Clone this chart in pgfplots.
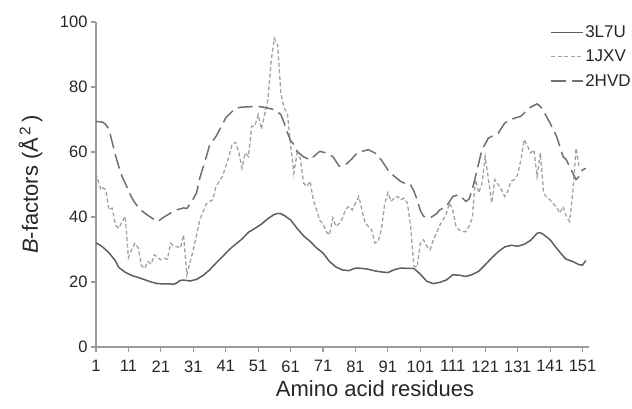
\documentclass[border=0pt]{standalone}
\usepackage{pgfplots}
\pgfplotsset{compat=1.18}
\usepackage{fontspec}
\setmainfont{Liberation Sans}
\definecolor{axgray}{HTML}{9A9A9A}
\definecolor{c3l7u}{HTML}{5E5E5E}
\definecolor{c1jxv}{HTML}{A2A2A2}
\definecolor{c2hvd}{HTML}{707070}
\begin{document}
\begin{tikzpicture}
\path[use as bounding box] (0,0) rectangle (632pt,409pt);
\begin{axis}[
  at={(96pt,62pt)}, anchor=south west,
  scale only axis, width=493pt, height=325pt,
  xmin=1, xmax=153, ymin=0, ymax=100,
  axis x line*=bottom, axis y line*=left,
  axis line style={axgray, line width=1.2pt, -},
  tick style={axgray, line width=1.1pt},
  tick align=outside, major tick length=5pt,
  xtick={1,11,...,151}, ytick={0,20,...,100},
  /pgf/number format/assume math mode=true,
  ticklabel style={font=\fontsize{16.5}{19}\selectfont, text=black!85},
  xticklabel style={yshift=-5pt},
  xlabel={Amino acid residues},
  ylabel={{\itshape B}-factors (Å\textsuperscript{\,2}\,)},
  label style={font=\fontsize{22}{26}\selectfont, text=black!85},
  xlabel style={at={(axis description cs:0.566,0)}, anchor=north, yshift=-30pt},
  ylabel style={at={(axis description cs:0,0.5)}, anchor=south, yshift=50pt},
  legend style={at={(axis description cs:0.915,1.0)}, anchor=north west, draw=none, fill=none,
    font=\fontsize{17}{19}\selectfont, text=black!85, row sep=8pt,
    nodes={inner sep=1.5pt}},
  legend cell align=left,
  legend image code/.code={\draw[#1] (0pt,0pt) -- (32pt,0pt);},
  clip=false,
]
\addplot[c3l7u, line width=1.5pt] coordinates {
(1,32.1)(3,30.8)(5,29.0)(7,26.5)(8,24.5)(10,23.0)(12,22.0)(14,21.4)(16,20.7)(18,20.0)
(20,19.5)(22,19.4)(24,19.4)(25,19.3)(26,19.8)(27,20.5)(28,20.6)(30,20.3)(32,20.8)(34,22.0)
(36,23.7)(38,25.8)(40,27.8)(42,29.9)(44,31.6)(46,33.2)(48,35.3)(50,36.5)(52,37.8)(54,39.5)
(56,40.8)(57,41.1)(58,41.0)(59,40.5)(61,39.1)(63,36.5)(65,34.2)(67,32.5)(69,30.5)(71,28.9)
(73,26.3)(75,24.6)(77,23.7)(79,23.5)(81,24.3)(83,24.2)(85,23.9)(87,23.4)(89,23.1)(91,22.9)
(93,23.8)(95,24.3)(97,24.2)(99,24.2)(101,22.4)(103,20.2)(105,19.5)(107,19.9)(109,20.6)(111,22.2)
(113,22.1)(115,21.7)(117,22.3)(119,23.3)(121,25.3)(123,27.4)(125,29.3)(127,30.8)(129,31.3)(131,31.0)
(133,31.6)(135,32.8)(137,35.0)(138,35.2)(139,34.6)(141,33.0)(143,30.4)(145,28.0)(146,27.0)(148,26.3)
(150,25.3)(151,25.2)(152,26.6)
};
\addlegendentry{3L7U}
\addplot[c1jxv, line width=1.3pt, dash pattern=on 4pt off 2.5pt] coordinates {
(1,53.5)(2,50)(2.5,48.4)(3,49)(4,48.4)(5,42.2)(6,42.7)(7,37.5)(8,36.5)(9,38.5)
(10,40.2)(11,27.5)(12,30)(13,31.9)(14,30.5)(15,25)(16,24.2)(17,26.3)(18,25.5)(19,28.4)
(20,27.5)(21,26.8)(22,27.3)(23,27.0)(24,31.9)(25,31.0)(26,30.9)(27,30.4)(28,34.5)(29,22.2)
(31,29.9)(33,39.1)(35,44.0)(36,44.8)(37,45.3)(38,49.4)(40,52.5)(42,58.6)(43,62.5)(44,63)
(45,60)(46,55)(47,59.7)(48,58.6)(49,67.9)(50,68)(51,71.5)(52,67)(53,71.5)(54,76)
(55,88)(56,95)(57,93)(58,78)(59,73.5)(60,72)(61,62)(62,53.5)(63,59.7)(64,58)
(65,50.4)(66,49.4)(67,51)(68,45.3)(70,39)(71,38)(72,35.5)(73,34.5)(74,39.7)(75,37.1)
(76,38)(77,39.7)(78,42.5)(79,43.2)(80,42.2)(82,46.3)(83,42.2)(84,38)(85,37.1)(86,36)
(87,32)(88,32.5)(89,36.1)(90,44)(91,47.5)(92,44.8)(93,46)(94,46.3)(95,45.3)(96,45.8)
(97,44.3)(98,37.1)(99,25)(100,24.5)(101,31.9)(102,33)(103,31)(104,29.9)(105,33)(106,35)
(107,37.5)(108,39.1)(109,41)(110,44.3)(111,42.2)(112,37.1)(113,36)(114,35.5)(115,35.5)(116,37.1)
(117,39.7)(118,51.5)(119,47.4)(120,50.4)(121,58.6)(122,51.5)(123,44.3)(124,51.5)(125,50)(126,48.4)
(127,46.3)(128,48)(129,51)(130,51.5)(131,53)(132,57.6)(133,63.8)(134,62)(135,59.7)(136,60.7)
(137,52.5)(138,59.7)(139,47.4)(140,46)(141,45.3)(142,44)(143,43.2)(144,41.2)(145,43.2)(146,40.2)
(147,38.6)(148,47.4)(149,61.2)(150,55)
};
\addlegendentry{1JXV}
\addplot[c2hvd, line width=1.5pt, dash pattern=on 15pt off 6pt] coordinates {
(1,69.4)(3,69.2)(4,68.5)(5,67)(6,63)(7,59)(8,55.6)(9,52.5)(10,50.4)(12,46.0)
(13,44.3)(15,42)(17,40.5)(19,39.2)(20,38.6)(22,40.0)(24,41.2)(26,42.2)(28,42.8)(29,42.6)
(30,44.0)(31,45.6)(32,47.4)(33,52)(35,58.5)(36,62)(38,64.8)(40,68.5)(41,70.5)(43,72.5)
(44,73.5)(46,73.8)(48,73.9)(50,74)(52,73.9)(54,73.5)(56,73.0)(58,71.5)(59,69)(60,66)
(61,63.5)(62,62.3)(63,60.2)(65,58.5)(67,57.6)(68,58.5)(70,60.2)(72,59.7)(74,58.6)(76,55.6)
(78,56.1)(80,58)(81,59.2)(83,60.2)(85,60.7)(87,59.7)(89,57.5)(91,54.5)(93,52.5)(95,50.9)
(97,50.0)(98,49.9)(99,48)(100,45.3)(101,42)(102,40.2)(104,39.7)(106,41.0)(107,42.2)(109,43.2)
(111,46.3)(112,46.6)(113,46.8)(114,45.8)(115,44.8)(116,45.5)(117,48.4)(118,52.5)(120,60.7)(122,64.3)
(125,65.8)(127,68.9)(130,70.4)(132,71)(134,73)(135,73.8)(137,74.8)(138,74)(139,72.5)(141,68.9)
(143,64.8)(145,58.6)(146,57.6)(148,53.5)(149,51.5)(150,52.5)(151,54.5)(152,55)
};
\addlegendentry{2HVD}
\end{axis}
\end{tikzpicture}
\end{document}
